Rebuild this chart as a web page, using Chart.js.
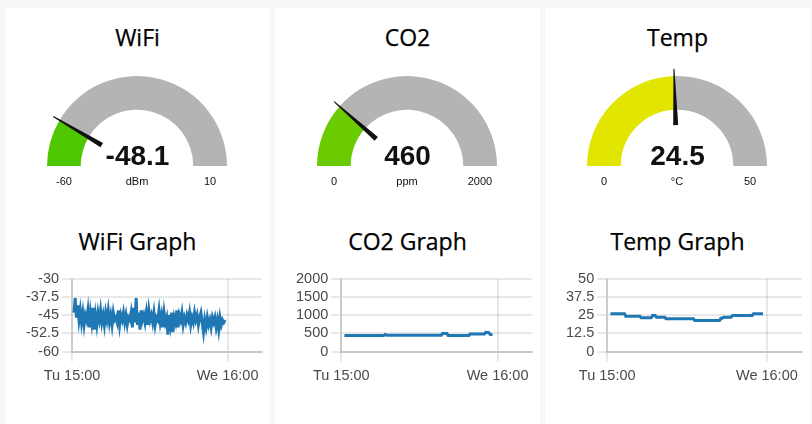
<!DOCTYPE html>
<html>
<head>
<meta charset="utf-8">
<script src="https://cdn.jsdelivr.net/npm/chart.js@4.4.0/dist/chart.umd.min.js"></script>
<style>
  body { margin: 0; background: #f7f7f7; width: 812px; height: 424px; overflow: hidden; position: relative; }
  .panel { position: absolute; top: 8px; width: 265px; height: 420px; background: #fff; }
  .title { position: absolute; left: 0; width: 100%; text-align: center; font-family: "Open Sans", sans-serif; font-size: 23px; line-height: 26px; color: #000; -webkit-text-stroke: 0.25px #000; }
  .gval { position: absolute; left: 0; width: 100%; text-align: center; font-family: "Liberation Sans", Arial, sans-serif; font-weight: bold; font-size: 28px; line-height: 28px; color: #111; top: 134px; }
  .glab { position: absolute; width: 60px; text-align: center; font-family: "Liberation Sans", Arial, sans-serif; font-size: 11px; line-height: 12px; color: #111; top: 167px; }
  canvas { position: absolute; }
</style>
</head>
<body>
<div class="panel" id="p0" style="left:5px"></div>
<div class="panel" id="p1" style="left:275px"></div>
<div class="panel" id="p2" style="left:545px"></div>
<script>
// gauges
const gaugeNames = ["WiFi", "CO2", "Temp"];
const gaugeValues = [-48.1, 460, 24.5];
const gaugeMin = [-60, 0, 0];
const gaugeMax = [10, 2000, 50];
const gaugeUnits = ["dBm", "ppm", "°C"];
const gaugeColors = ["#4ec600", "#6acb00", "#e1e500"];

// graphs
const graphNames = ["WiFi Graph", "CO2 Graph", "Temp Graph"];
const timeTicks = [0, 25]; // hours after Tu 15:00
const timeLabels = ["Tu 15:00", "We 16:00"];
const wifiTicks = [-30, -37.5, -45, -52.5, -60];
const co2Ticks = [2000, 1500, 1000, 500, 0];
const tempTicks = [50, 37.5, 25, 12.5, 0];

const wifiStart = 0.3, wifiStep = 0.2042; // sample interval, hours
const wifiValues = [
  -44,-38,-46,-41,-47,-43,-48,-44,-49,-45,
  -47,-43,-50,-44,-48,-42,-51,-45,-49,-44,
  -47,-43,-48,-45,-49,-44,-47,-43,-48,-45,
  -49,-44,-47,-46,-48,-43,-49,-45,-47,-44,
  -48,-45,-49,-46,-47,-44,-50,-42,-48,-38,
  -49,-44,-51,-43,-47,-45,-48,-44,-49,-43,
  -47,-45,-48,-44,-49,-46,-47,-43,-48,-45,
  -50,-44,-48,-46,-53,-45,-49,-44,-52,-46,
  -48,-43,-50,-45,-47,-44,-49,-46,-48,-45,
  -47,-44,-49,-46,-48,-44,-47,-45,-49,-46,
  -44,-48,-52,-47,-50,-46,-49,-47,-50,-46,
  -48,-46,-50,-47,-51,-46,-49,-47,-48,-47
];
const co2Times = [0.5, 6.8, 7.0, 7.3, 16.0, 16.2, 16.9, 17.1, 20.4, 20.6, 22.9, 23.1, 23.6, 23.8, 24.2];
const co2Values = [440, 440, 470, 450, 450, 500, 500, 440, 440, 480, 480, 530, 520, 470, 460];
const tempTimes = [0.5, 2.7, 2.9, 5.1, 5.3, 6.9, 7.1, 7.5, 7.7, 9.0, 9.2, 13.5, 13.7, 17.6, 17.8, 18.0, 18.2, 19.4, 19.6, 22.7, 22.9, 24.4];
const tempValues = [25.9, 25.9, 24.3, 24.3, 23.2, 23.2, 24.8, 24.8, 23.6, 23.6, 22.5, 22.5, 21.4, 21.4, 22.8, 22.8, 23.6, 23.6, 24.8, 24.8, 25.9, 25.9];

const needlePlugin = {
  id: "needle",
  afterDatasetsDraw(chart) {
    const arc = chart.getDatasetMeta(0).data[0];
    const a = arc.endAngle;
    const r1 = arc.outerRadius * 0.455, r2 = arc.outerRadius * 1.08;
    const cos = Math.cos(a), sin = Math.sin(a);
    const nx = -sin, ny = cos; // normal
    const ctx = chart.ctx;
    ctx.save();
    ctx.fillStyle = "#111";
    ctx.beginPath();
    ctx.moveTo(arc.x + cos * r1 + nx * 2.5, arc.y + sin * r1 + ny * 2.5);
    ctx.lineTo(arc.x + cos * r2 + nx * 0.5, arc.y + sin * r2 + ny * 0.5);
    ctx.lineTo(arc.x + cos * r2 - nx * 0.5, arc.y + sin * r2 - ny * 0.5);
    ctx.lineTo(arc.x + cos * r1 - nx * 2.5, arc.y + sin * r1 - ny * 2.5);
    ctx.closePath();
    ctx.fill();
    ctx.restore();
  }
};

function addText(panel, cls, text, style) {
  const d = document.createElement("div");
  d.className = cls;
  d.textContent = text;
  Object.assign(d.style, style || {});
  panel.appendChild(d);
  return d;
}

function makeGauge(i) {
  const panel = document.getElementById("p" + i);
  addText(panel, "title", gaugeNames[i], { top: "16px" });
  const c = document.createElement("canvas");
  c.width = 200; c.height = 100;
  c.style.left = "32px"; c.style.top = "58px";
  panel.appendChild(c);
  new Chart(c, {
    type: "doughnut",
    data: {
      datasets: [{
        data: [gaugeValues[i] - gaugeMin[i], gaugeMax[i] - gaugeValues[i]],
        backgroundColor: [gaugeColors[i], "#b4b4b4"],
        borderWidth: 0
      }]
    },
    options: {
      responsive: false,
      animation: false,
      rotation: -90,
      circumference: 180,
      cutout: "62.5%",
      layout: { padding: { left: 10, right: 10, top: 10, bottom: 0 } },
      plugins: { legend: { display: false }, tooltip: { enabled: false } }
    },
    plugins: [needlePlugin]
  });
  addText(panel, "gval", String(gaugeValues[i]));
  addText(panel, "glab", String(gaugeMin[i]), { left: "29px" });
  addText(panel, "glab", gaugeUnits[i], { left: "102px" });
  addText(panel, "glab", String(gaugeMax[i]), { left: "175px" });
}

function makeGraph(i, points, yTicks, lineWidth) {
  const panel = document.getElementById("p" + i);
  addText(panel, "title", graphNames[i], { top: "220px" });
  const c = document.createElement("canvas");
  c.width = 245; c.height = 124;
  c.style.left = "15px"; c.style.top = "259px";
  panel.appendChild(c);
  const grid = { color: "rgba(0,0,0,0.09)", lineWidth: 2, tickLength: 10 };
  const tickFont = { size: 14.5, family: "'Liberation Sans', Arial, sans-serif" };
  new Chart(c, {
    type: "line",
    data: {
      datasets: [{
        data: points,
        borderColor: "#1f77b4",
        borderWidth: lineWidth,
        pointRadius: 0,
        tension: 0,
        fill: false
      }]
    },
    options: {
      responsive: false,
      animation: false,
      layout: { padding: { left: 3, right: 3, top: 0, bottom: 0 } },
      plugins: { legend: { display: false }, tooltip: { enabled: false } },
      scales: {
        x: {
          type: "linear",
          min: 0,
          max: 30.5,
          grid: grid,
          border: { color: "rgba(0,0,0,0.14)", width: 2 },
          afterBuildTicks: (axis) => { axis.ticks = timeTicks.map(v => ({ value: v })); },
          ticks: {
            maxRotation: 0,
            autoSkip: false,
            padding: 6,
            color: "#4a4a4a",
            font: tickFont,
            callback: (v, idx) => timeLabels[idx]
          }
        },
        y: {
          min: yTicks[yTicks.length - 1],
          max: yTicks[0],
          grid: grid,
          border: { color: "rgba(0,0,0,0.12)", width: 2 },
          afterBuildTicks: (axis) => { axis.ticks = yTicks.slice().reverse().map(v => ({ value: v })); },
          ticks: {
            autoSkip: false,
            color: "#4a4a4a",
            font: tickFont,
            callback: (v) => String(v)
          }
        }
      }
    }
  });
}

for (let i = 0; i < 3; i++) makeGauge(i);

const wifiPoints = wifiValues.map((v, k) => ({ x: wifiStart + k * wifiStep, y: v }));
const co2Points = co2Times.map((t, k) => ({ x: t, y: co2Values[k] }));
const tempPoints = tempTimes.map((t, k) => ({ x: t, y: tempValues[k] }));

makeGraph(0, wifiPoints, wifiTicks, 3);
makeGraph(1, co2Points, co2Ticks, 3);
makeGraph(2, tempPoints, tempTicks, 3);
</script>
</body>
</html>
